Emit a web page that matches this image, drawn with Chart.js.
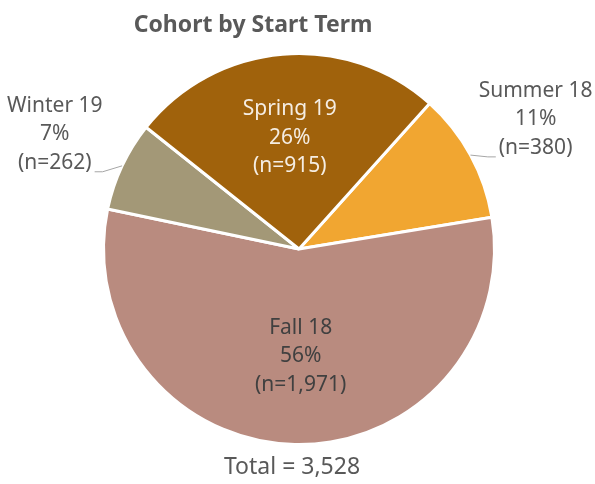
<!doctype html>
<html lang="en">
  <head>
    <meta charset="utf-8">
    <title>Cohort by Start Term</title>
    <script src="https://cdn.jsdelivr.net/npm/chart.js"></script>
    <style>
      html, body { margin: 0; padding: 0; background: #fff; }
      #wrap { width: 595px; height: 484px; }
    </style>
  </head>
  <body>
    <div id="wrap">
        <canvas id="myChart" width="595" height="484"></canvas>
    </div>
    <script>
        // data
        const terms = ['Summer 18', 'Fall 18', 'Winter 19', 'Spring 19'];
        const counts = [380, 1971, 262, 915];
        const colors = ['#F1A631', '#B98B7F', '#A39877', '#A0620C'];
        const textColors = ['#595959', '#404040', '#595959', '#F5EDE3'];
        const outside = [true, false, true, false];
        const total = counts.reduce((a, b) => a + b, 0);

        const FONT = '"Noto Sans", sans-serif';

        // draws title, slice labels, leader lines and total
        const labelPlugin = {
            id: 'labelPlugin',
            afterDraw(chart) {
                const ctx = chart.ctx;
                const meta = chart.getDatasetMeta(0);
                ctx.save();
                ctx.textAlign = 'center';
                ctx.textBaseline = 'middle';

                ctx.fillStyle = '#595959';
                ctx.font = 'bold 23px ' + FONT;
                ctx.fillText('Cohort by Start Term', 253, 25);

                meta.data.forEach((arc, i) => {
                    const mid = (arc.startAngle + arc.endAngle) / 2;
                    const r = arc.outerRadius;
                    const pct = Math.round(counts[i] / total * 100) + '%';
                    const lines = [terms[i], pct, '(n=' + counts[i].toLocaleString('en-US') + ')'];
                    const f = outside[i] ? 1.38 : (i === 1 ? 0.55 : 0.57);
                    let cx = arc.x + Math.cos(mid) * r * f;
                    const cy = arc.y + Math.sin(mid) * r * f;
                    if (i === 1) cx += 4;
                    ctx.font = '21px ' + FONT;
                    ctx.fillStyle = textColors[i];
                    lines.forEach((t, k) => ctx.fillText(t, cx, cy + (k - 1) * 28.5));

                    if (outside[i]) {
                        const ex = arc.x + Math.cos(mid) * r;
                        const ey = arc.y + Math.sin(mid) * r;
                        const dir = Math.cos(mid) < 0 ? -1 : 1;
                        const lastW = ctx.measureText(lines[2]).width;
                        const tx = cx - dir * (lastW / 2 + 3);
                        const ty = cy + 28.5 + 9;
                        ctx.strokeStyle = '#A6A6A6';
                        ctx.lineWidth = 1;
                        ctx.beginPath();
                        ctx.moveTo(ex, ey);
                        ctx.lineTo(tx - dir * 8, ty);
                        ctx.lineTo(tx, ty);
                        ctx.stroke();
                    }
                });

                ctx.font = '23px ' + FONT;
                ctx.fillStyle = '#595959';
                ctx.fillText('Total = ' + total.toLocaleString('en-US'), 292, 467);
                ctx.restore();
            }
        };

        const config = {
            type: 'pie',
            data: {
                labels: terms,
                datasets: [{
                    data: counts,
                    backgroundColor: colors,
                    borderColor: '#ffffff',
                    borderWidth: 3
                }]
            },
            options: {
                responsive: false,
                animation: false,
                rotation: 41.9,
                layout: { padding: { top: 52, bottom: 38, left: 101, right: 98 } },
                plugins: {
                    legend: { display: false },
                    title: { display: false },
                    tooltip: { enabled: false }
                }
            },
            plugins: [labelPlugin]
        };

        const myChart = new Chart(document.getElementById('myChart'), config);
    </script>
  </body>
</html>
